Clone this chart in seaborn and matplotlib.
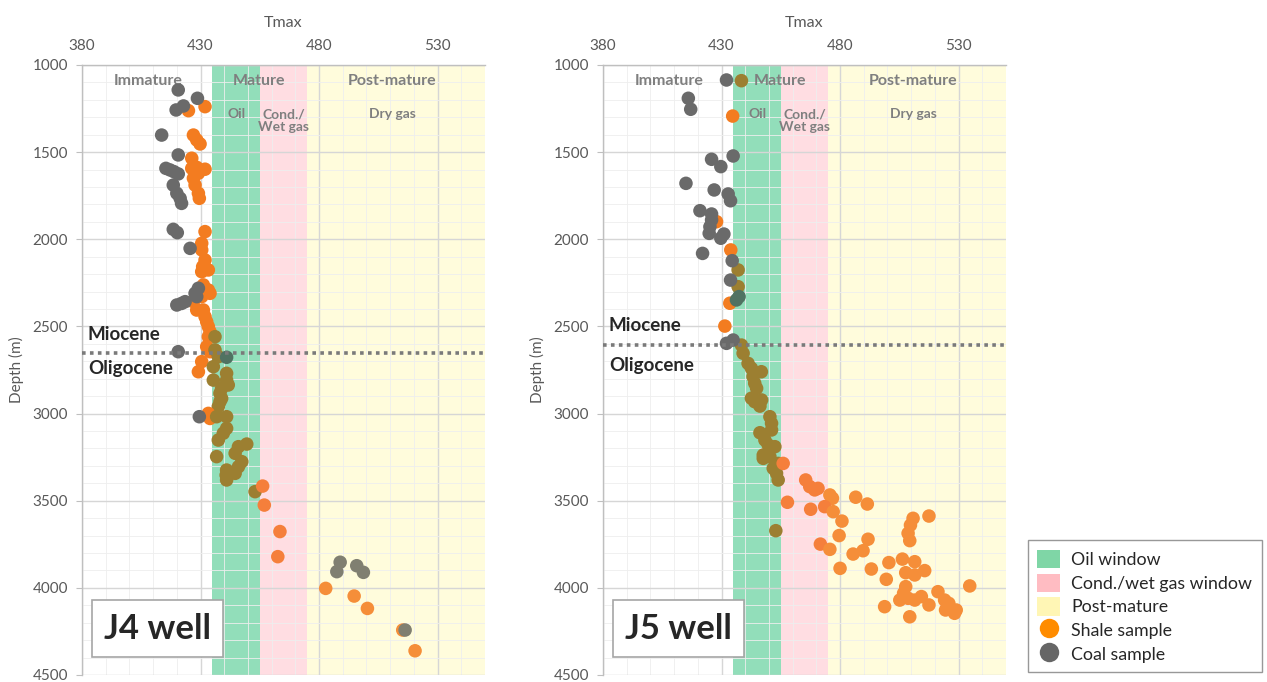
import numpy as np
import pandas as pd
import matplotlib
matplotlib.use("Agg")
import matplotlib.pyplot as plt
from matplotlib.patches import Patch
from matplotlib.lines import Line2D
from matplotlib.ticker import MultipleLocator
import seaborn as sns

# ---------------- data ----------------
j4_shale_tmax = [424.9, 431.9, 427, 428.4, 429.8, 426.3, 426.3, 428.4, 431.9, 429.1, 427, 427.7, 429.1, 429.5,
                 431.9, 430.5, 430.5, 431.9, 433.3, 430.5, 430.9, 431.2, 433.3, 434, 430.5, 427, 428.4, 431.2,
                 431.9, 432.6, 433.3, 434, 433.3, 436.1, 432.6, 434, 436.1, 437.5, 430.5, 429.1, 435.4, 435.4,
                 441, 441, 441.7, 438.9, 438.2, 438.9, 438.2, 437.5, 433.3, 434, 436.8, 441, 441, 439.6, 437.5,
                 449.5, 446, 444.6, 436.8, 447.4, 446, 444.6, 441, 441, 440.8, 453, 456.2, 456.9, 463.5, 462.6,
                 482.8, 494.8, 500.4, 515.3, 520.5]
j4_shale_depth = [1262, 1239, 1402, 1430, 1453, 1535, 1593, 1587, 1598, 1621, 1650, 1689, 1736, 1765,
                  1956, 2023, 2061, 2119, 2176, 2186, 2157, 2262, 2291, 2310, 2329, 2358, 2406, 2406,
                  2444, 2473, 2501, 2530, 2559, 2559, 2616, 2645, 2635, 2674, 2702, 2760, 2731, 2808,
                  2769, 2808, 2836, 2855, 2884, 2913, 2932, 2960, 2999, 3028, 3018, 3018, 3085, 3113, 3152,
                  3175, 3190, 3228, 3247, 3276, 3305, 3343, 3324, 3381, 3353, 3448, 3416, 3525, 3677, 3821,
                  4003, 4047, 4118, 4242, 4361]
j4_coal_tmax = [420.6, 428.7, 422.8, 419.7, 413.6, 420.6, 415.4, 417.1, 418.8, 420.6, 418.5, 420, 421.4, 422,
                418.5, 420.2, 425.6, 429.1, 427.7, 428.4, 420, 422, 423.5, 420.6, 441, 429.5,
                488.9, 487.5, 495.9, 498.7, 516.3]
j4_coal_depth = [1143, 1191, 1235, 1258, 1402, 1516, 1593, 1602, 1612, 1625, 1689, 1736, 1765, 1794,
                 1943, 1962, 2052, 2281, 2310, 2329, 2377, 2368, 2358, 2645, 2677, 3018,
                 3853, 3907, 3873, 3911, 4242]

j5_shale_tmax = [434.7, 438.4, 427.9, 433.9, 437, 437, 433.5, 431.4, 438.4, 439.1, 441.2, 442.6, 446.8, 443.3,
                 444, 444.8, 442.6, 444, 446.9, 446.2, 450.4, 451.1, 451.1, 446.2, 448.3, 449.7, 452.5, 447.6,
                 450.4, 447.6, 453.9, 451.8, 453.2, 453.9, 456, 452.9, 457.8, 465.5, 467.2, 469.3, 470.7,
                 475.7, 476.8, 473.5, 477.1, 467.6, 486.6, 491.5, 480.8, 479.6, 491.8, 471.7, 475.7, 485.5,
                 489.7, 480, 493.2, 510.8, 509.7, 508.7, 509.4, 517.5, 500.6, 499.5, 506.3, 511.5, 507.7,
                 511.5, 515.7, 507.7, 506.8, 505.2, 508.7, 511.5, 514.3, 517.5, 498.8, 509.4, 521.3, 524.1,
                 525.9, 524.5, 529, 528.3, 534.7]
j5_shale_depth = [1293, 1090, 1899, 2061, 2176, 2272, 2367, 2498, 2607, 2654, 2712, 2740, 2760, 2788,
                  2826, 2855, 2912, 2932, 2922, 2957, 3018, 3056, 3094, 3110, 3152, 3180, 3190, 3238,
                  3247, 3257, 3286, 3314, 3343, 3381, 3286, 3672, 3509, 3381, 3419, 3438, 3429,
                  3467, 3486, 3534, 3563, 3549, 3480, 3519, 3617, 3700, 3721, 3749, 3779, 3806,
                  3787, 3888, 3892, 3601, 3640, 3687, 3729, 3588, 3855, 3951, 3835, 3850, 3913,
                  3926, 3901, 3993, 4031, 4070, 4060, 4070, 4050, 4098, 4108, 4166, 4022, 4070,
                  4089, 4127, 4127, 4146, 3989]
j5_coal_tmax = [432.1, 416, 417, 434.9, 425.8, 429.7, 415, 426.9, 432.8, 433.8, 420.9, 425.8, 425.8, 425.1,
                424.8, 431, 429.7, 422, 434.5, 433.8, 437.4, 436.3, 432.1, 434.9]
j5_coal_depth = [1086, 1191, 1254, 1522, 1541, 1583, 1679, 1717, 1740, 1779, 1836, 1855, 1889, 1928,
                 1966, 1970, 1994, 2081, 2123, 2234, 2329, 2348, 2597, 2578]

boundary_depth = {"J4": 2652, "J5": 2607}
zone_edges = [435, 455, 475, 550]
zone_names = ["Oil window", "Cond./wet gas window", "Post-mature"]
tick_x = [380, 430, 480, 530]

# ---------------- styles ----------------
band_colors = ["#92deba", "#ffdde2", "#fffcdc"]
legend_band_colors = ["#7fd6a6", "#ffbcc2", "#fff6b5"]
shale_color = "#f37c20"
coal_color = "#6a6a6a"
legend_shale = "#ff8c00"
legend_coal = "#666666"

sns.set_style("white")
plt.rcParams["font.family"] = ["Lato", "DejaVu Sans"]


def hex2rgb(h):
    h = h.lstrip("#")
    return np.array([int(h[i:i + 2], 16) for i in (0, 2, 4)]) / 255.0


def shade(base, t):
    """Points lying under a maturity band take on the band's tint."""
    rgb = hex2rgb(base)
    if t >= zone_edges[0]:
        for k in range(3):
            if zone_edges[k] <= t < zone_edges[k + 1]:
                band = hex2rgb(band_colors[k])
                mult = rgb * band
                blend = 0.5 * rgb + 0.5 * band
                rgb = 0.7 * mult + 0.3 * blend
    return matplotlib.colors.to_hex(np.clip(rgb, 0, 1))


fig = plt.figure(figsize=(12.67, 6.82), dpi=100)
ax_pos = {"J4": [82 / 1267, 7 / 682, 403 / 1267, 610 / 682],
          "J5": [603 / 1267, 7 / 682, 403 / 1267, 610 / 682]}
wells = {
    "J4": (j4_shale_tmax, j4_shale_depth, j4_coal_tmax, j4_coal_depth),
    "J5": (j5_shale_tmax, j5_shale_depth, j5_coal_tmax, j5_coal_depth),
}
label_y = {"J4": (2549, 2739), "J5": (2492, 2727)}

for well, (st, sd, ct, cd) in wells.items():
    ax = fig.add_axes(ax_pos[well])
    # maturity bands
    for k in range(3):
        ax.axvspan(zone_edges[k], zone_edges[k + 1], color=band_colors[k], lw=0, zorder=0.2)
    ax.set_axisbelow(True)
    ax.xaxis.set_minor_locator(MultipleLocator(10))
    ax.yaxis.set_major_locator(MultipleLocator(500))
    ax.yaxis.set_minor_locator(MultipleLocator(100))
    ax.grid(which="major", color="#d6d6d6", lw=1.0)
    ax.grid(which="minor", color="#eeeeee", lw=0.6)

    df = pd.concat([
        pd.DataFrame({"tmax": st, "depth": sd, "kind": "Shale"}),
        pd.DataFrame({"tmax": ct, "depth": cd, "kind": "Coal"}),
    ], ignore_index=True)
    df["shade"] = [shade(shale_color if k == "Shale" else coal_color, t)
                   for k, t in zip(df["kind"], df["tmax"])]
    pal = {c: c for c in df["shade"].unique()}
    sns.scatterplot(data=df, x="tmax", y="depth", hue="shade", palette=pal, legend=False,
                    s=95, linewidth=0, ax=ax, zorder=3)
    ax.set_xticks(tick_x)
    ax.set_xlim(380, 550)
    ax.set_ylim(4500, 1000)

    # formation boundary
    ax.axhline(boundary_depth[well], color="#7a7a7a", lw=2.6, ls=(0, (1, 1.2)), zorder=4)
    ax.text(382.5, label_y[well][0], "Miocene", fontsize=13.5, fontweight="bold", va="center", ha="left", zorder=5)
    ax.text(382.5, label_y[well][1], "Oligocene", fontsize=13.5, fontweight="bold", va="center", ha="left", zorder=5)

    # zone labels
    zc = "#7f7f7f"
    ax.text(407.8, 1092, "Immature", color=zc, fontsize=11.5, fontweight="bold", ha="center", va="center", zorder=2)
    ax.text(454.7, 1092, "Mature", color=zc, fontsize=11.5, fontweight="bold", ha="center", va="center", zorder=2)
    ax.text(511, 1092, "Post-mature", color=zc, fontsize=11.5, fontweight="bold", ha="center", va="center", zorder=2)
    ax.text(445, 1280, "Oil", color=zc, fontsize=10, fontweight="bold", ha="center", va="center", zorder=2)
    ax.text(465, 1320, "Cond./\nWet gas", color=zc, fontsize=10, fontweight="bold", ha="center", va="center",
            linespacing=1.05, zorder=2)
    ax.text(511, 1280, "Dry gas", color=zc, fontsize=10, fontweight="bold", ha="center", va="center", zorder=2)

    # well label
    ax.text(0.188, 0.076, f"{well} well", transform=ax.transAxes, fontsize=25, fontweight="bold",
            ha="center", va="center", zorder=6,
            bbox=dict(boxstyle="square,pad=0.35", fc="white", ec="#a6a6a6", lw=1.2))

    # axes styling
    ax.xaxis.tick_top()
    ax.xaxis.set_label_position("top")
    ax.set_xlabel("Tmax", fontsize=11.5, color="#595959", labelpad=8)
    ax.set_ylabel("Depth (m)", fontsize=11, color="#595959", labelpad=6)
    ax.tick_params(axis="x", which="major", length=0, pad=9, labelsize=11, labelcolor="#595959")
    ax.tick_params(axis="y", which="major", length=4, color="#bfbfbf", pad=6, labelsize=11,
                   labelcolor="#595959", left=True)
    ax.tick_params(which="minor", length=0)
    for side in ["right", "bottom"]:
        ax.spines[side].set_visible(False)
    for side in ["left", "top"]:
        ax.spines[side].set_color("#bfbfbf")
        ax.spines[side].set_linewidth(1.0)

handles = [Patch(facecolor=c, edgecolor="none") for c in legend_band_colors] + [
    Line2D([], [], marker="o", ls="none", markersize=14, markerfacecolor=legend_shale, markeredgecolor="none"),
    Line2D([], [], marker="o", ls="none", markersize=14, markerfacecolor=legend_coal, markeredgecolor="none"),
]
labels = zone_names + ["Shale sample", "Coal sample"]
leg = fig.legend(handles, labels, loc="lower right", bbox_to_anchor=(0.996, 0.014), fontsize=12.8,
                 frameon=True, fancybox=False, edgecolor="#7f7f7f", handlelength=1.3, handleheight=1.2,
                 handletextpad=0.6, labelspacing=0.3, borderpad=0.55, borderaxespad=0)
leg.get_frame().set_linewidth(1.0)

fig.savefig("out.png", dpi=100)
